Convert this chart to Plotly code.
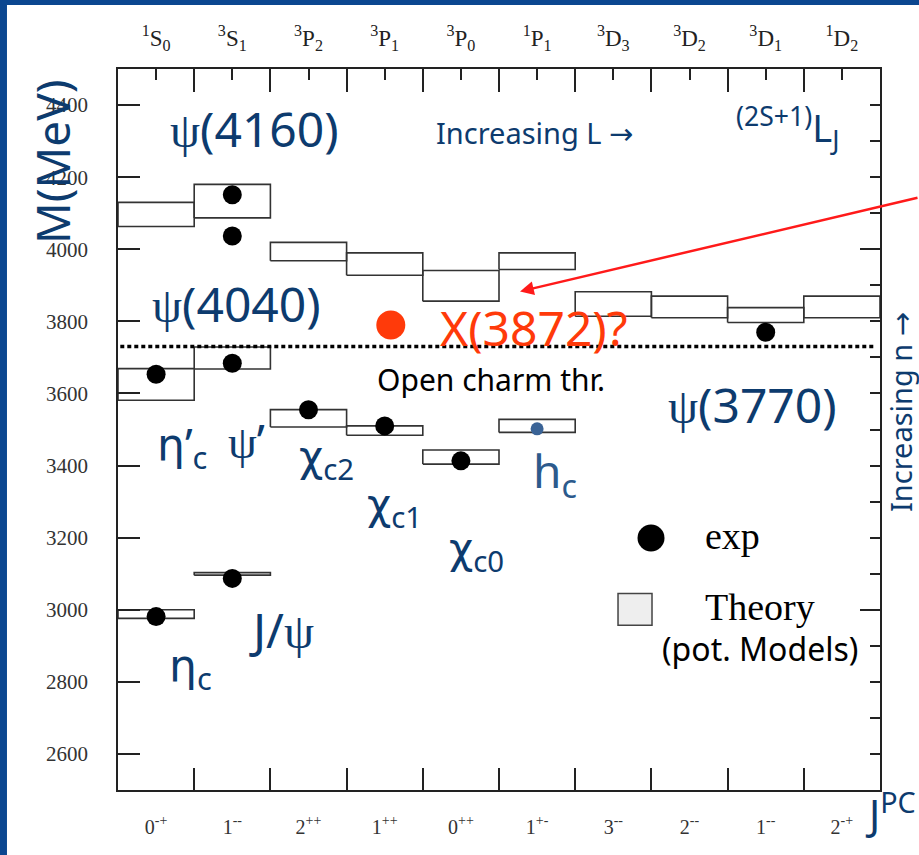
import plotly.graph_objects as go

# ---------------- data ----------------
spec_labels = ["<sup>1</sup>S<sub>0</sub>", "<sup>3</sup>S<sub>1</sub>", "<sup>3</sup>P<sub>2</sub>",
               "<sup>3</sup>P<sub>1</sub>", "<sup>3</sup>P<sub>0</sub>", "<sup>1</sup>P<sub>1</sub>",
               "<sup>3</sup>D<sub>3</sub>", "<sup>3</sup>D<sub>2</sub>", "<sup>3</sup>D<sub>1</sub>",
               "<sup>1</sup>D<sub>2</sub>"]
jpc_labels = ["0<sup>-+</sup>", "1<sup>--</sup>", "2<sup>++</sup>", "1<sup>++</sup>", "0<sup>++</sup>",
              "1<sup>+-</sup>", "3<sup>--</sup>", "2<sup>--</sup>", "1<sup>--</sup>", "2<sup>-+</sup>"]

# theory (potential models) boxes: column index, lower and upper mass (MeV)
theory_col = [0, 0, 0, 1, 1, 1, 2, 2, 3, 3, 4, 4, 5, 5, 6, 7, 8, 9]
theory_lo = [4063, 3581, 2976, 4087, 3668, 3096, 3968, 3507, 3928, 3484, 3856, 3404, 3944, 3492, 3814, 3810, 3797, 3810]
theory_hi = [4130, 3669, 3000, 4180, 3729, 3103, 4019, 3555, 3990, 3510, 3941, 3443, 3990, 3528, 3882, 3870, 3838, 3870]

# experimental states
exp_col = [0, 0, 1, 1, 1, 1, 2, 3, 4, 8]
exp_mass = [2981, 3653, 3087, 3684, 4037, 4151, 3555, 3510, 3413, 3770]
hc_col = [5]
hc_mass = [3502]
x3872_col = [3]
x3872_mass = [3790]
open_charm_thr = 3730

y_ticks = [2600, 2800, 3000, 3200, 3400, 3600, 3800, 4000, 4200, 4400]

# ---------------- styling ----------------
NAVY = "#0d3b6e"
BLUE_BG = "#0b4790"
SANS = "Noto Sans"
SERIF = "Liberation Serif"
PSI = "<span style='font-family:Liberation Serif'>ψ</span>"
CHI = "<span style='font-family:DejaVu Sans'>χ</span>"
ETA = "<span style='font-family:DejaVu Sans'>η</span>"
ARROW = "<span style='font-family:DejaVu Sans'>→</span>"

n_col = len(spec_labels)
centers = [i + 0.5 for i in range(n_col)]
bounds = list(range(1, n_col))

fig = go.Figure()

# theory boxes
bx, by = [], []
for c, lo, hi in zip(theory_col, theory_lo, theory_hi):
    bx += [c, c + 1, c + 1, c, c, None]
    by += [lo, lo, hi, hi, lo, None]
fig.add_trace(go.Scatter(x=bx, y=by, mode="lines", line=dict(color="#333", width=1.6),
                         fill="toself", fillcolor="rgba(255,255,255,0)", hoverinfo="skip",
                         showlegend=False))

# open charm threshold
fig.add_trace(go.Scatter(x=[0.03, n_col - 0.06], y=[open_charm_thr] * 2, mode="lines",
                         line=dict(color="black", width=3.5, dash="4px,3px"), showlegend=False))

# experimental points
fig.add_trace(go.Scatter(x=[c + 0.5 for c in exp_col], y=exp_mass, mode="markers",
                         marker=dict(color="black", size=19), showlegend=False))
fig.add_trace(go.Scatter(x=[c + 0.5 for c in hc_col], y=hc_mass, mode="markers",
                         marker=dict(color="#3a6396", size=13), showlegend=False))
fig.add_trace(go.Scatter(x=[c + 0.58 for c in x3872_col], y=x3872_mass, mode="markers",
                         marker=dict(color="#ff3a0a", size=29), showlegend=False))

# invisible trace so that the top / right mirror axes get drawn
fig.add_trace(go.Scatter(x=centers, y=[open_charm_thr] * n_col, xaxis="x2", yaxis="y2",
                         mode="markers", marker=dict(opacity=0), hoverinfo="skip",
                         showlegend=False))


def ann(text, x, y, size, color=NAVY, family=SANS, xanchor="center", yanchor="middle", **kw):
    fig.add_annotation(text=text, x=x, y=y, showarrow=False, xanchor=xanchor, yanchor=yanchor,
                       font=dict(size=size, color=color, family=family), **kw)


ann(PSI + "(4160)", 1.79, 4334, 48)
ann(PSI + "(4040)", 1.56, 3850, 48)
ann(PSI + "(3770)", 8.33, 3570, 48)
ann("X(3872)?", 4.2, 3783, 48, color="#ff3a0a", xanchor="left")
ann("Open charm thr.", 4.895, 3640, 30, color="black")
ann("Increasing L " + ARROW, 5.47, 4323, 29)
ann("<sup>(2S+1)</sup>L<sub>J</sub>", 8.78, 4337, 38)
ann(ETA + "’<sub>c</sub>", 0.84, 3457, 44)
ann(PSI + "’", 1.69, 3471, 46)
ann(CHI + "<sub>c2</sub>", 2.74, 3415, 42)
ann(CHI + "<sub>c1</sub>", 3.635, 3282, 42)
ann(CHI + "<sub>c0</sub>", 4.70, 3160, 42)
ann("h<sub>c</sub>", 5.735, 3379, 46, color="#2c5a8c")
ann("J/" + PSI, 2.15, 2945, 48)
ann(ETA + "<sub>c</sub>", 0.945, 2834, 44)

# legend
fig.add_shape(type="circle", x0=6.995 - 0.177, x1=6.995 + 0.177, y0=3199 - 37.4, y1=3199 + 37.4,
              fillcolor="black", line=dict(color="black", width=0))
fig.add_shape(type="rect", x0=6.562, x1=7.008, y0=2957, y1=3045,
              fillcolor="#eeeeee", line=dict(color="#444", width=1.5))
ann("exp", 7.68, 3205, 38, color="black", family=SERIF, xanchor="left")
ann("Theory", 7.68, 3008, 38, color="black", family=SERIF, xanchor="left")
ann("(pot. Models)", 8.425, 2892, 32, color="black")

# arrow to X(3872)
fig.add_annotation(x=5.276, y=3883, ax=399, ay=-94, text="", showarrow=True,
                   arrowhead=2, arrowsize=1.1, arrowwidth=2.5, arrowcolor="#ff1a1a")

# outside texts
fig.add_annotation(text="M(MeV)", xref="paper", yref="paper", x=-0.0866, y=0.871, showarrow=False,
                   xanchor="center", yanchor="middle",
                   textangle=-90, font=dict(size=46, color=NAVY, family=SANS))
fig.add_annotation(text="Increasing n " + ARROW, xref="paper", yref="paper", x=1.026, y=0.524,
                   showarrow=False, xanchor="center", yanchor="middle",
                   textangle=-90, font=dict(size=29, color=NAVY, family=SANS))
fig.add_annotation(text="J<sup>PC</sup>", xref="paper", yref="paper", x=1.014, y=-0.03,
                   showarrow=False, xanchor="center", yanchor="middle",
                   font=dict(size=41, color=NAVY, family=SANS))

# white slide area
fig.add_shape(type="rect", xref="paper", yref="paper", x0=-0.1457, x1=1.06, y0=-0.1, y1=1.0888,
              fillcolor="white", line=dict(width=0), layer="below")

axis_line = dict(showline=True, linecolor="#222", linewidth=1.5, showgrid=False, zeroline=False)

fig.update_layout(
    width=919, height=855,
    margin=dict(l=118, r=39, t=69, b=65),
    paper_bgcolor=BLUE_BG, plot_bgcolor="white",
    showlegend=False,
    xaxis=dict(range=[0, n_col], tickmode="array", tickvals=centers, ticktext=jpc_labels,
               ticks="inside", ticklen=0, tickcolor="#222",
               minor=dict(tickmode="array", tickvals=bounds, ticks="inside", ticklen=22,
                          tickcolor="#222", tickwidth=1.5),
               tickfont=dict(family=SERIF, size=20, color="#333"), ticklabelstandoff=18,
               **axis_line),
    xaxis2=dict(range=[0, n_col], overlaying="x", side="top", tickmode="array", tickvals=centers,
                ticktext=spec_labels, ticks="inside", ticklen=11, tickcolor="#222", tickwidth=1.5,
                minor=dict(tickmode="array", tickvals=bounds, ticks="inside", ticklen=23,
                           tickcolor="#222", tickwidth=1.5),
                tickfont=dict(family=SERIF, size=23, color="#222"), ticklabelstandoff=12,
                **axis_line),
    yaxis=dict(range=[2500, 4500], tickmode="array", tickvals=y_ticks, ticks="inside", ticklen=22,
               tickcolor="#222", tickwidth=1.5, tickfont=dict(family=SERIF, size=21, color="#333"),
               ticklabelstandoff=24, **axis_line),
    yaxis2=dict(range=[2500, 4500], overlaying="y", side="right", tickmode="array",
                tickvals=[3000, 4000], ticks="inside", ticklen=20, tickcolor="#222", tickwidth=1.5,
                showticklabels=False,
                minor=dict(dtick=100, tick0=2500, ticks="inside", ticklen=10, tickcolor="#222",
                           tickwidth=1.5),
                **axis_line),
)

fig.write_html(
    "out.html",
    config={"displayModeBar": False},
    post_script="document.body.style.margin='0px';"
                "document.body.style.background='" + BLUE_BG + "';",
)
